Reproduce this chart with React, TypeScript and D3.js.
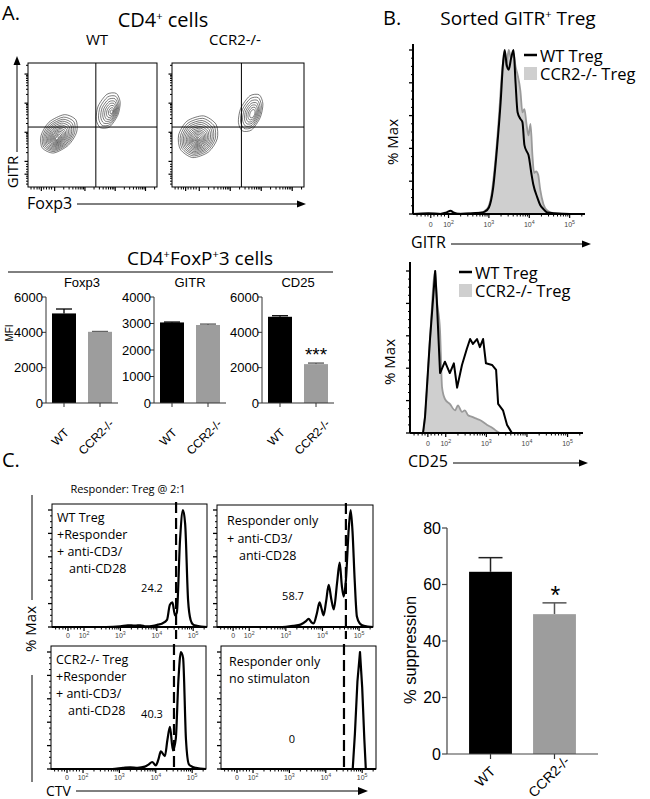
import React from "react";
import * as d3 from "d3";

type Pt = [number, number];

// ---------------- Data ----------------
const GROUPS = ["WT", "CCR2-/-"];
const MFI_MARKERS = ["Foxp3", "GITR", "CD25"];
const MFI_WT = [5070, 3040, 4880];
const MFI_KO = [4030, 2943, 2200];
const MFI_WT_SEM = [250, 15, 60];
const MFI_KO_SEM = [20, 35, 60];
const MFI_AXIS_MAX = [6000, 4000, 6000];
const MFI_TICKS = [
  [0, 2000, 4000, 6000],
  [0, 1000, 2000, 3000, 4000],
  [0, 2000, 4000, 6000],
];
const MFI_SIGNIF = ["", "", "***"];

const SUPPRESSION = [64.5, 49.5];
const SUPPRESSION_SEM = [5, 4];
const SUPPRESSION_TICKS = [0, 20, 40, 60, 80];
const SUPPRESSION_SIGNIF = ["", "*"];

// flow axes, in display decades ("0", 10^2 .. 10^5)
const FLOW_DOMAIN: Pt = [1.12, 5.38];
const FLOW_TICK_VALUES = [1.56, 2, 3, 4, 5];
const FLOW_TICK_EXP = ["", "2", "3", "4", "5"];
const FLOW_NEAR_ZERO_MINOR = [1.22, 1.32, 1.42, 1.49, 1.64, 1.73, 1.82, 1.9];

// Panel A contour plots (Foxp3 decade, GITR decade)
const GATE_FOXP3 = 3.36;
const GATE_GITR = 3.18;
const RINGS_DENSE = [1, 0.9, 0.81, 0.73, 0.65, 0.57, 0.5, 0.43, 0.37, 0.31, 0.25, 0.19, 0.13, 0.08];
const RINGS_SPARSE = [1, 0.85, 0.71, 0.58, 0.46, 0.34, 0.22, 0.11];
const CONTOUR_PROFILE = [1, 1.06, 1.02, 0.95, 0.98, 1.04, 0.97, 0.94];
const CONTOUR_WT = [
  { core: [2.07, 2.78], outer: [2.14, 2.94], rx: 0.73, ry: 0.5, rot: 40, rings: RINGS_DENSE },
  { core: [3.89, 3.7], outer: [3.77, 3.74], rx: 0.63, ry: 0.36, rot: 65, rings: RINGS_SPARSE },
];
const CONTOUR_KO = [
  { core: [1.93, 2.72], outer: [1.96, 2.84], rx: 0.71, ry: 0.61, rot: 35, rings: RINGS_DENSE.concat([0.04]) },
  { core: [3.73, 3.63], outer: [3.66, 3.66], rx: 0.65, ry: 0.35, rot: 65, rings: RINGS_SPARSE.slice(0, 7) },
];

// Panel B histograms: [decade, % of max]
const GITR_WT: Pt[] = [
  [1.12, 0], [1.5, 0.5], [1.8, 0], [1.95, 1], [2.05, 2], [2.12, 1], [2.3, 0], [2.6, 0.5], [2.8, 0.8],
  [2.9, 1.5], [3.0, 4], [3.1, 15], [3.2, 40], [3.29, 68], [3.35, 92], [3.39, 100], [3.44, 91],
  [3.49, 88], [3.55, 95], [3.61, 100], [3.66, 80], [3.71, 62], [3.78, 58], [3.83, 56], [3.88, 42],
  [3.94, 38], [3.98, 36], [4.05, 25], [4.1, 18], [4.2, 10], [4.27, 5.5], [4.35, 3], [4.44, 1],
  [4.6, 0.5], [5.0, 0], [5.38, 0],
];
const GITR_KO: Pt[] = [
  [1.12, 0], [2.5, 0.5], [2.8, 1], [2.95, 3], [3.05, 10], [3.15, 30], [3.25, 60], [3.32, 85],
  [3.38, 97], [3.43, 90], [3.49, 100], [3.55, 95], [3.61, 98], [3.66, 90], [3.71, 85], [3.78, 75],
  [3.83, 62], [3.88, 64], [3.93, 55], [3.98, 48], [4.03, 55], [4.08, 35], [4.12, 25], [4.17, 26],
  [4.22, 24], [4.27, 15], [4.35, 6], [4.45, 2], [4.6, 0.5], [5.0, 0], [5.38, 0],
];
const CD25_WT: Pt[] = [
  [1.12, 0], [1.44, 0], [1.49, 10], [1.61, 57], [1.74, 100], [1.78, 82], [1.86, 37], [1.98, 44],
  [2.1, 37], [2.2, 43], [2.28, 28], [2.4, 42], [2.52, 52], [2.6, 58], [2.67, 55], [2.77, 58],
  [2.84, 53], [2.92, 58], [2.99, 43], [3.14, 42], [3.24, 39], [3.29, 18], [3.41, 14], [3.51, 5],
  [3.63, 0], [5.38, 0],
];
const CD25_KO: Pt[] = [
  [1.12, 0], [1.44, 0], [1.49, 10], [1.61, 57], [1.74, 100], [1.78, 83], [1.86, 63], [1.91, 28],
  [1.98, 21], [2.1, 18], [2.23, 14], [2.3, 17], [2.4, 13], [2.47, 14], [2.55, 11], [2.65, 10],
  [2.74, 9], [2.84, 8], [3.02, 5], [3.16, 3], [3.26, 1], [3.34, 0], [5.38, 0],
];

// Panel C CTV proliferation histograms
const CTV_WT_TREG: Pt[] = [
  [1.12, 0], [2.6, 0], [3.0, 0.5], [3.2, 1.5], [3.4, 1.2], [3.55, 1.5], [3.7, 0.5], [3.9, 1],
  [4.03, 2], [4.15, 3], [4.28, 6], [4.36, 19], [4.43, 21], [4.5, 10], [4.55, 12], [4.64, 75],
  [4.72, 100], [4.78, 88], [4.86, 23], [4.93, 6], [5.0, 2], [5.1, 1], [5.38, 0],
];
const CTV_RESP_STIM: Pt[] = [
  [1.12, 0], [2.9, 0], [3.2, 1], [3.4, 2], [3.55, 5], [3.62, 7], [3.7, 4], [3.76, 3], [3.85, 12],
  [3.92, 21], [3.98, 15], [4.03, 10], [4.1, 22], [4.17, 36], [4.24, 24], [4.31, 15], [4.4, 38],
  [4.47, 55], [4.53, 35], [4.58, 26], [4.64, 40], [4.72, 85], [4.77, 100], [4.82, 82], [4.88, 40],
  [4.94, 9], [5.02, 3], [5.13, 1], [5.38, 0],
];
const CTV_KO_TREG: Pt[] = [
  [1.12, 0], [2.8, 0], [3.1, 1], [3.3, 1.5], [3.5, 1], [3.7, 2], [3.81, 4], [3.9, 6], [4.0, 3],
  [4.07, 8], [4.14, 15], [4.25, 11], [4.32, 25], [4.39, 36], [4.47, 16], [4.55, 26], [4.62, 75],
  [4.69, 100], [4.75, 95], [4.83, 25], [4.91, 4], [5.0, 2], [5.1, 1], [5.38, 0],
];
const CTV_RESP_UNSTIM: Pt[] = [
  [1.12, 0], [4.74, 0], [4.8, 30], [4.87, 75], [4.94, 100], [5.0, 70], [5.06, 25], [5.1, 0], [5.38, 0],
];
const CTV_LINES = [
  ["WT Treg", "+Responder", "+ anti-CD3/", "anti-CD28"],
  ["Responder only", "+ anti-CD3/", "anti-CD28"],
  ["CCR2-/- Treg", "+Responder", "+ anti-CD3/", "anti-CD28"],
  ["Responder only", "no stimulaton"],
];
const CTV_PERCENT = ["24.2", "58.7", "40.3", "0"];
const CTV_GATE = [4.53, 4.64, 4.5, 4.5];
const CTV_CURVES = [CTV_WT_TREG, CTV_RESP_STIM, CTV_KO_TREG, CTV_RESP_UNSTIM];

// ---------------- Styles / layout ----------------
const SANS = "'Open Sans', 'Noto Sans', sans-serif";
const ARIAL = "'Liberation Sans', Arial, sans-serif";
const GREY_BAR = "#9d9d9d";
const GREY_FILL = "#cfcfcf";
const GREY_LINE = "#9a9a9a";

const MINOR_T: number[] = (() => {
  const out: number[] = [...FLOW_NEAR_ZERO_MINOR];
  [2, 3, 4].forEach((d) => {
    for (let k = 2; k <= 9; k++) out.push(d + Math.log10(k));
  });
  out.push(5 + Math.log10(2), 5 + Math.log10(3));
  return out.filter((t) => t > FLOW_DOMAIN[0] && t < FLOW_DOMAIN[1]);
})();

function FlowXTicks({ scale, y, labels, labelDy = 11, major = 4, minor = 2.5, size = 7 }: any) {
  return (
    <g>
      {MINOR_T.map((t, i) => (
        <line key={"m" + i} x1={scale(t)} x2={scale(t)} y1={y} y2={y + minor} stroke="#000" strokeWidth={1} />
      ))}
      {FLOW_TICK_VALUES.map((t, i) => (
        <line key={"M" + i} x1={scale(t)} x2={scale(t)} y1={y} y2={y + major} stroke="#000" strokeWidth={1.2} />
      ))}
      {labels &&
        FLOW_TICK_VALUES.map((t, i) => (
          <text key={"l" + i} x={scale(t)} y={y + labelDy} fontSize={size} fontFamily={ARIAL} textAnchor="middle" fill="#444">
            {i === 0 ? "0" : (
              <>
                {"10"}
                <tspan dy={-3} fontSize={size * 0.75}>{FLOW_TICK_EXP[i]}</tspan>
              </>
            )}
          </text>
        ))}
    </g>
  );
}

function FlowYTicksLog({ scale, x }: any) {
  return (
    <g>
      {MINOR_T.map((t, i) => (
        <line key={"m" + i} x1={x} x2={x - 2} y1={scale(t)} y2={scale(t)} stroke="#000" strokeWidth={1} />
      ))}
      {FLOW_TICK_VALUES.map((t, i) => (
        <line key={"M" + i} x1={x} x2={x - 3.5} y1={scale(t)} y2={scale(t)} stroke="#000" strokeWidth={1.2} />
      ))}
    </g>
  );
}

function PctYTicks({ scale, x, max = 100 }: any) {
  const ticks = d3.range(0, max + 0.1, 5);
  return (
    <g>
      {ticks.map((v, i) => (
        <line key={i} x1={x} x2={x - (v % 20 === 0 ? 4 : 2)} y1={scale(v)} y2={scale(v)} stroke="#000" strokeWidth={v % 20 === 0 ? 1.3 : 1} />
      ))}
    </g>
  );
}

function Arrow({ x1, y1, x2, y2, head = 8, w = 3.5, sw = 1 }: any) {
  const ang = Math.atan2(y2 - y1, x2 - x1);
  const bx = x2 - head * Math.cos(ang);
  const by = y2 - head * Math.sin(ang);
  const px = -Math.sin(ang) * w;
  const py = Math.cos(ang) * w;
  return (
    <g>
      <line x1={x1} y1={y1} x2={bx} y2={by} stroke="#000" strokeWidth={sw} />
      <path d={`M${x2},${y2}L${bx + px},${by + py}L${bx - px},${by - py}Z`} fill="#000" />
    </g>
  );
}

function ContourPlot({ x0, x1, y0, y1, pops }: any) {
  const xs = d3.scaleLinear().domain(FLOW_DOMAIN).range([x0, x1]);
  const ys = d3.scaleLinear().domain(FLOW_DOMAIN).range([y1, y0]);
  const pxPerDec = xs(2) - xs(1);
  const line = d3.line().curve(d3.curveCardinalClosed.tension(0.2));
  const paths: string[] = [];
  pops.forEach((p: any) => {
    p.rings.forEach((s: number) => {
      const cx = xs(p.core[0] + s * (p.outer[0] - p.core[0]));
      const cy = ys(p.core[1] + s * (p.outer[1] - p.core[1]));
      const rx = p.rx * pxPerDec * s;
      const ry = p.ry * pxPerDec * s;
      const phi = (p.rot * Math.PI) / 180;
      const pts: Pt[] = CONTOUR_PROFILE.map((pr, k) => {
        const th = (k * 2 * Math.PI) / CONTOUR_PROFILE.length;
        const u = rx * pr * Math.cos(th);
        const v = ry * pr * Math.sin(th);
        return [cx + u * Math.cos(phi) - v * Math.sin(phi), cy - (u * Math.sin(phi) + v * Math.cos(phi))];
      });
      paths.push(line(pts) as string);
    });
  });
  return (
    <g>
      <FlowYTicksLog scale={ys} x={x0} />
      <FlowXTicks scale={xs} y={y1} />
      {paths.map((d, i) => (
        <path key={i} d={d} fill="none" stroke="#222" strokeWidth={0.6} />
      ))}
      <line x1={xs(GATE_FOXP3)} x2={xs(GATE_FOXP3)} y1={y0} y2={y1} stroke="#000" strokeWidth={1} />
      <line x1={x0} x2={x1} y1={ys(GATE_GITR)} y2={ys(GATE_GITR)} stroke="#000" strokeWidth={1} />
      <rect x={x0} y={y0} width={x1 - x0} height={y1 - y0} fill="none" stroke="#000" strokeWidth={1} />
    </g>
  );
}

function MfiChart({ i, axisX }: any) {
  const top = 297;
  const bottom = 403;
  const y = d3.scaleLinear().domain([0, MFI_AXIS_MAX[i]]).range([bottom, top]);
  const x = d3.scaleBand().domain(GROUPS).range([axisX, axisX + 72]).paddingInner(1 / 3).paddingOuter(1 / 6);
  const means = [MFI_WT[i], MFI_KO[i]];
  const sems = [MFI_WT_SEM[i], MFI_KO_SEM[i]];
  const bw = x.bandwidth();
  return (
    <g fontFamily={ARIAL}>
      <text x={axisX + 36} y={287} fontSize={13} textAnchor="middle">{MFI_MARKERS[i]}</text>
      {GROUPS.map((g, j) => {
        const cx = (x(g) as number) + bw / 2;
        return (
          <g key={g}>
            <line x1={cx} x2={cx} y1={y(means[j])} y2={y(means[j] + sems[j])} stroke={j ? "#555" : "#000"} strokeWidth={1.3} />
            <line x1={cx - 8} x2={cx + 8} y1={y(means[j] + sems[j])} y2={y(means[j] + sems[j])} stroke={j ? "#555" : "#000"} strokeWidth={1.3} />
            <rect x={x(g)} y={y(means[j])} width={bw} height={bottom - y(means[j])} fill={j ? GREY_BAR : "#000"} />
            <line x1={cx} x2={cx} y1={bottom} y2={bottom + 4} stroke="#333" strokeWidth={1} />
            <text transform={`translate(${cx - 1},${bottom + 37}) rotate(-45)`} fontSize={12} textAnchor="middle">{g}</text>
          </g>
        );
      })}
      {MFI_SIGNIF[i] && (
        <text x={(x(GROUPS[1]) as number) + bw / 2} y={361} fontSize={19} textAnchor="middle">{MFI_SIGNIF[i]}</text>
      )}
      <line x1={axisX} x2={axisX} y1={top} y2={bottom} stroke="#333" strokeWidth={1} />
      <line x1={axisX} x2={axisX + 72} y1={bottom} y2={bottom} stroke="#333" strokeWidth={1} />
      {MFI_TICKS[i].map((t) => (
        <g key={t}>
          <line x1={axisX - 4} x2={axisX} y1={y(t)} y2={y(t)} stroke="#333" strokeWidth={1} />
          <text x={axisX - 3} y={y(t) + 4.5} fontSize={13} textAnchor="end">{t}</text>
        </g>
      ))}
    </g>
  );
}

function FlowHist({ x0, x1, y100, y0, axisTop, wt, ko, curveWt, xLabel, legendX, legendY }: any) {
  const xs = d3.scaleLinear().domain(FLOW_DOMAIN).range([x0, x1]);
  const ys = d3.scaleLinear().domain([0, 100]).range([y0, y100]);
  const area = d3.area<Pt>().x((d) => xs(d[0])).y0(y0).y1((d) => ys(d[1])).curve(d3.curveMonotoneX);
  const lineKo = d3.line<Pt>().x((d) => xs(d[0])).y((d) => ys(d[1])).curve(d3.curveMonotoneX);
  const lineWt = d3.line<Pt>().x((d) => xs(d[0])).y((d) => ys(d[1])).curve(curveWt);
  const labelY = y0 + 13;
  return (
    <g>
      <path d={area(ko) as string} fill={GREY_FILL} />
      <path d={lineKo(ko) as string} fill="none" stroke={GREY_LINE} strokeWidth={1.8} />
      <path d={lineWt(wt) as string} fill="none" stroke="#000" strokeWidth={2} strokeLinejoin="round" />
      <line x1={x0} x2={x0} y1={axisTop} y2={y0} stroke="#000" strokeWidth={2} />
      <line x1={x0} x2={x1} y1={y0} y2={y0} stroke="#000" strokeWidth={2} />
      <PctYTicks scale={ys} x={x0} />
      <FlowXTicks scale={xs} y={y0} labels labelDy={13} />
      <text transform={`translate(${x0 - 15},${(y0 + y100) / 2 + 10}) rotate(-90)`} fontFamily={SANS} fontSize={15} textAnchor="middle">% Max</text>
      <text x={x0 - 2} y={labelY + 21} fontFamily={SANS} fontSize={16}>{xLabel}</text>
      <Arrow x1={x0 + (xLabel === "GITR" ? 38 : 43)} y1={labelY + 17} x2={x0 + 178} y2={labelY + 17} head={9} w={3.5} />
      <line x1={legendX} x2={legendX + 13} y1={legendY} y2={legendY} stroke="#000" strokeWidth={2.5} />
      <text x={legendX + 16} y={legendY + 6.5} fontFamily={SANS} fontSize={16.5}>WT Treg</text>
      <rect x={legendX} y={legendY + 12} width={13} height={13} fill={GREY_FILL} />
      <text x={legendX + 16} y={legendY + 25} fontFamily={SANS} fontSize={16.5}>CCR2-/- Treg</text>
    </g>
  );
}

const CTV_BOXES = [
  { x0: 52, x1: 207, y0: 504, y1: 627, tx: 5, ty: [18, 35, 52, 69], indent: 12, px: 100, py: 88, dashExt: 12 },
  { x0: 217, x1: 373, y0: 505, y1: 627, tx: 10, ty: [20, 38, 55], indent: 12, px: 76, py: 95, dashExt: 12 },
  { x0: 51, x1: 206, y0: 646, y1: 769, tx: 5, ty: [18, 35, 52, 69], indent: 12, px: 101, py: 72, dashExt: 0 },
  { x0: 221, x1: 376, y0: 646, y1: 769, tx: 8, ty: [20, 37], indent: 0, px: 71, py: 97, dashExt: 0 },
];

function CtvBox({ i }: any) {
  const b = CTV_BOXES[i];
  const xs = d3.scaleLinear().domain(FLOW_DOMAIN).range([b.x0, b.x1]);
  const ys = d3.scaleLinear().domain([0, 100]).range([b.y1, b.y1 - 117]);
  const line = d3
    .line<Pt>()
    .x((d) => xs(d[0]))
    .y((d) => ys(d[1]))
    .curve(i === 3 ? d3.curveLinear : d3.curveMonotoneX);
  const gx = xs(CTV_GATE[i]);
  return (
    <g>
      <rect x={b.x0} y={b.y0} width={b.x1 - b.x0} height={b.y1 - b.y0} fill="none" stroke="#000" strokeWidth={1} />
      <line x1={b.x0} x2={b.x1} y1={b.y1} y2={b.y1} stroke="#000" strokeWidth={2} />
      <PctYTicks scale={ys} x={b.x0} />
      <FlowXTicks scale={xs} y={b.y1} labels labelDy={11} />
      <path d={line(CTV_CURVES[i]) as string} fill="none" stroke="#000" strokeWidth={2.2} strokeLinejoin="round" />
      <line x1={gx} x2={gx} y1={b.y0 - 2} y2={b.y1 + b.dashExt} stroke="#000" strokeWidth={2.2} strokeDasharray="11,5" />
      <g fontFamily={SANS} fontSize={12.5}>
        {CTV_LINES[i].map((s, k) => (
          <text key={k} x={b.x0 + b.tx + (s.startsWith("anti-CD28") ? b.indent : 0)} y={b.y0 + b.ty[k]}>{s}</text>
        ))}
      </g>
      <text x={b.x0 + b.px} y={b.y0 + b.py} fontFamily={SANS} fontSize={11} textAnchor="middle">{CTV_PERCENT[i]}</text>
    </g>
  );
}

function SuppressionChart() {
  const axisX = 447;
  const top = 528;
  const bottom = 754;
  const y = d3.scaleLinear().domain([0, 80]).range([bottom, top]);
  const x = d3.scaleBand().domain(GROUPS).range([axisX, axisX + 151]).paddingInner(0.33).paddingOuter(0.345);
  const bw = x.bandwidth();
  return (
    <g fontFamily={ARIAL}>
      {GROUPS.map((g, j) => {
        const cx = (x(g) as number) + bw / 2;
        const v = SUPPRESSION[j];
        const e = SUPPRESSION_SEM[j];
        const col = j ? "#555" : "#222";
        return (
          <g key={g}>
            <line x1={cx} x2={cx} y1={y(v)} y2={y(v + e)} stroke={col} strokeWidth={1.5} />
            <line x1={cx - 12} x2={cx + 12} y1={y(v + e)} y2={y(v + e)} stroke={col} strokeWidth={1.5} />
            <rect x={x(g)} y={y(v)} width={bw} height={bottom - y(v)} fill={j ? GREY_BAR : "#000"} />
            <line x1={cx} x2={cx} y1={bottom} y2={bottom + 5} stroke="#333" strokeWidth={1.2} />
            <text transform={`translate(${cx - 2},${bottom + 26}) rotate(-45)`} fontSize={14} textAnchor="middle">{g}</text>
            {SUPPRESSION_SIGNIF[j] && (
              <text x={cx + 1} y={604} fontSize={25} textAnchor="middle">{SUPPRESSION_SIGNIF[j]}</text>
            )}
          </g>
        );
      })}
      <line x1={axisX} x2={axisX} y1={top} y2={bottom} stroke="#444" strokeWidth={1.2} />
      <line x1={axisX} x2={axisX + 151} y1={bottom} y2={bottom} stroke="#444" strokeWidth={1.2} />
      {SUPPRESSION_TICKS.map((t) => (
        <g key={t}>
          <line x1={axisX - 5} x2={axisX} y1={y(t)} y2={y(t)} stroke="#444" strokeWidth={1.2} />
          <text x={axisX - 6} y={y(t) + 5.5} fontSize={16} textAnchor="end">{t}</text>
        </g>
      ))}
      <text transform={`translate(416,650) rotate(-90)`} fontSize={16.5} textAnchor="middle">% suppression</text>
    </g>
  );
}

export default function App() {
  return (
    <svg width={650} height={799} style={{ position: "absolute", left: 0, top: 0, background: "#fff" }}>
      <rect width={650} height={799} fill="#fff" />
      {/* Panel A */}
      <g fontFamily={SANS}>
        <text x={2} y={20} fontSize={20}>A.</text>
        <text x={163} y={27} fontSize={20} textAnchor="middle">
          CD4<tspan dy={-7} fontSize={11}>+</tspan>
          <tspan dy={7}> cells</tspan>
        </text>
        <text x={97} y={45} fontSize={15} textAnchor="middle">WT</text>
        <text x={235} y={45} fontSize={15} textAnchor="middle">CCR2-/-</text>
        <text transform="translate(18,172) rotate(-90)" fontSize={15} textAnchor="middle">GITR</text>
        <Arrow x1={17} y1={152} x2={17} y2={56} head={9} w={3.5} />
        <text x={27} y={209} fontSize={16}>Foxp3</text>
        <Arrow x1={77} y1={204} x2={306} y2={204} head={9} w={3.5} />
      </g>
      <ContourPlot x0={28} x1={157} y0={63} y1={187} pops={CONTOUR_WT} />
      <ContourPlot x0={172} x1={304} y0={63} y1={187} pops={CONTOUR_KO} />

      <text x={200} y={265} fontSize={19} fontFamily={SANS} textAnchor="middle">
        CD4<tspan dy={-7} fontSize={11}>+</tspan>
        <tspan dy={7}>FoxP</tspan>
        <tspan dy={-7} fontSize={11}>+</tspan>
        <tspan dy={7}>3 cells</tspan>
      </text>
      <line x1={8} x2={333} y1={272} y2={272} stroke="#000" strokeWidth={1} />
      <text transform="translate(13,333) rotate(-90)" fontSize={10} fontFamily={ARIAL} textAnchor="middle">MFI</text>
      {[46, 154, 262].map((ax, i) => (
        <MfiChart key={i} i={i} axisX={ax} />
      ))}

      {/* Panel B */}
      <g fontFamily={SANS}>
        <text x={383} y={25} fontSize={20}>B.</text>
        <text x={518} y={25} fontSize={19} textAnchor="middle">
          Sorted GITR<tspan dy={-7} fontSize={11}>+</tspan>
          <tspan dy={7}> Treg</tspan>
        </text>
      </g>
      <FlowHist x0={413} x1={585} y100={50} y0={214} axisTop={44} wt={GITR_WT} ko={GITR_KO}
        curveWt={d3.curveMonotoneX} xLabel="GITR" legendX={524} legendY={55} />
      <FlowHist x0={410} x1={583} y100={271} y0={433} axisTop={262} wt={CD25_WT} ko={CD25_KO}
        curveWt={d3.curveLinear} xLabel="CD25" legendX={459} legendY={272} />

      {/* Panel C */}
      <g fontFamily={SANS}>
        <text x={2} y={467} fontSize={20}>C.</text>
        <text x={128} y={493} fontSize={11} textAnchor="middle">Responder: Treg @ 2:1</text>
        <line x1={32} x2={32} y1={495} y2={600} stroke="#000" strokeWidth={1} />
        <line x1={32} x2={32} y1={675} y2={782} stroke="#000" strokeWidth={1} />
        <text transform="translate(36,629) rotate(-90)" fontSize={15} textAnchor="middle">% Max</text>
        <text x={46} y={796} fontSize={14}>CTV</text>
        <Arrow x1={76} y1={791} x2={368} y2={791} head={10} w={4} />
      </g>
      {[0, 1, 2, 3].map((i) => (
        <CtvBox key={i} i={i} />
      ))}
      <SuppressionChart />
    </svg>
  );
}
